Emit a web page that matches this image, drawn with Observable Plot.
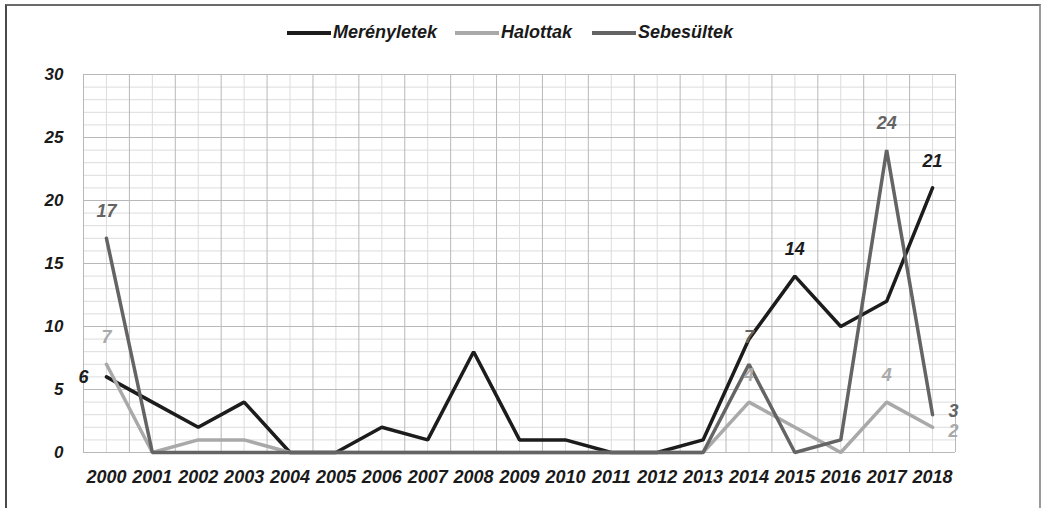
<!DOCTYPE html>
<html><head><meta charset="utf-8">
<script src="https://cdn.jsdelivr.net/npm/d3@7"></script>
<script src="https://cdn.jsdelivr.net/npm/@observablehq/plot@0.6"></script>
<style>
body{margin:0;background:#fff;}
#wrap{position:relative;width:1042px;height:508px;overflow:hidden;font-family:"Liberation Sans",Arial,sans-serif;font-weight:bold;font-style:italic;}
#frame{position:absolute;left:5px;top:4px;width:1032px;height:530px;border-top:2px solid #6a6a6a;border-left:2px solid #4a4a4a;border-right:2px solid #9a9a9a;pointer-events:none;}
#legend{height:55px;position:relative;}
.item{position:absolute;top:22px;display:flex;align-items:center;font-size:18px;color:#1a1a1a;white-space:nowrap;}
.sw{width:44px;height:4px;margin-right:2px;}
#chart{position:relative;}
</style></head>
<body>
<div id="wrap">
  <div id="legend"></div>
  <div id="chart"></div>
  <div id="frame"></div>
</div>
<script>
const years = [2000,2001,2002,2003,2004,2005,2006,2007,2008,2009,2010,2011,2012,2013,2014,2015,2016,2017,2018];
const merenyletek = [6,4,2,4,0,0,2,1,8,1,1,0,0,1,9,14,10,12,21];
const halottak    = [7,0,1,1,0,0,0,0,0,0,0,0,0,0,4,2,0,4,2];
const sebesultek  = [17,0,0,0,0,0,0,0,0,0,0,0,0,0,7,0,1,24,3];
const seriesNames = ["Merényletek","Halottak","Sebesültek"];
const yTicks = [0,5,10,15,20,25,30];
// labelled years per series
const labelsMer = [2000,2015,2018];
const labelsHal = [2000,2014,2017,2018];
const labelsSeb = [2000,2014,2017,2018];

const colors = {"Merényletek":"#1c1c1c","Halottak":"#a9a9a9","Sebesültek":"#646464"};
const valuesBy = {"Merényletek":merenyletek,"Halottak":halottak,"Sebesültek":sebesultek};
const labelYears = {"Merényletek":labelsMer,"Halottak":labelsHal,"Sebesültek":labelsSeb};

// legend
const lg = document.getElementById("legend");
const lefts = [287,455,592];
seriesNames.forEach((n,i)=>{
  const d = document.createElement("div");
  d.className="item"; d.style.left = lefts[i]+"px";
  d.innerHTML = `<span class="sw" style="background:${colors[n]}"></span><span>${n}</span>`;
  lg.appendChild(d);
});

const rows = [];
seriesNames.forEach(n => years.forEach((y,i)=>rows.push({series:n, year:y, value:valuesBy[n][i]})));

const above = [], left = [], rightHi = [], rightLo = [];
seriesNames.forEach(n => labelYears[n].forEach(y => {
  const r = {series:n, year:y, value:valuesBy[n][years.indexOf(y)]};
  if (n==="Merényletek" && y===2000) left.push(r);
  else if (n==="Sebesültek" && y===2018) rightHi.push(r);
  else if (n==="Halottak" && y===2018) rightLo.push(r);
  else above.push(r);
}));

const font = '"Liberation Sans",Arial,sans-serif';
const txt = {x:"year", y:"value", text:d=>String(d.value), fill:d=>colors[d.series], fontSize:18, fontWeight:"bold", fontStyle:"italic", fontFamily:font};

const chart = Plot.plot({
  width:1042, height:453,
  marginTop:19, marginBottom:56, marginLeft:83, marginRight:87,
  style:{fontFamily:font, fontSize:"17px", fontWeight:"bold", fontStyle:"italic", color:"#1a1a1a", background:"transparent", overflow:"visible"},
  x:{domain:[1999.5,2018.5]},
  y:{domain:[0,30]},
  marks:[
    Plot.ruleY(d3.range(0,31), {stroke:"#dcdcdc", strokeWidth:1}),
    Plot.ruleX(years, {y1:0, y2:30, stroke:"#dcdcdc", strokeWidth:1}),
    Plot.ruleY(yTicks, {stroke:"#b8b8b8", strokeWidth:1}),
    Plot.ruleX(d3.range(1999.5,2019,1), {y1:0, y2:30, stroke:"#b8b8b8", strokeWidth:1}),
    Plot.axisY({ticks:yTicks, tickSize:0, tickPadding:20, label:null, fontSize:17}),
    Plot.axisX({ticks:years, tickFormat:d=>String(d), tickSize:0, tickPadding:18, label:null, fontSize:18}),
    ...seriesNames.map(n => Plot.line(rows.filter(r=>r.series===n), {x:"year", y:"value", stroke:colors[n], strokeWidth:3.5, strokeLinejoin:"miter"})),
    Plot.text(above, {...txt, dy:-27}),
    Plot.text(left, {...txt, dx:-23}),
    Plot.text(rightHi, {...txt, dx:21, dy:-3}),
    Plot.text(rightLo, {...txt, dx:21, dy:4})
  ]
});
document.getElementById("chart").appendChild(chart);
</script>
</body></html>
